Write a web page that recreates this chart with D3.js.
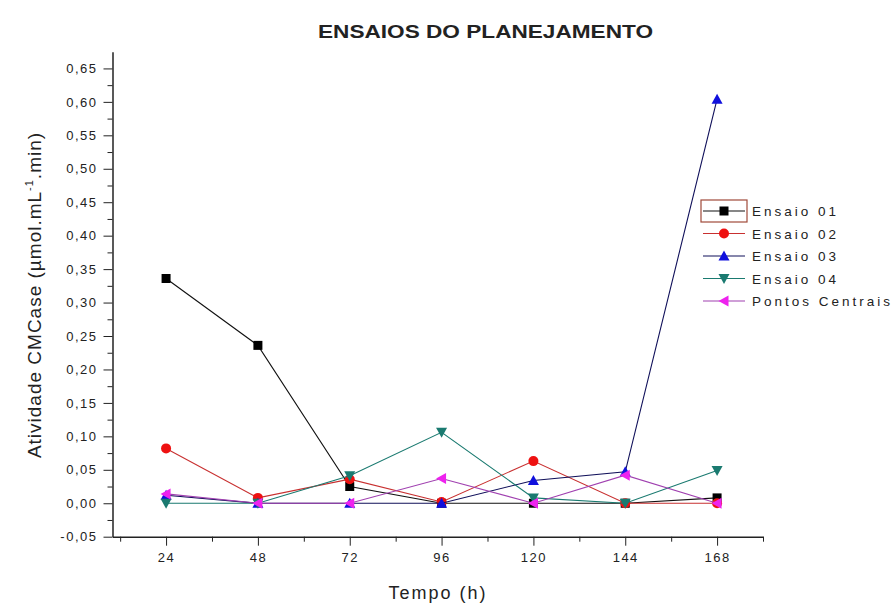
<!DOCTYPE html>
<html>
<head>
<meta charset="utf-8">
<script src="https://cdn.jsdelivr.net/npm/d3@7"></script>
<style>
  html, body { margin: 0; padding: 0; background: #fff; }
  svg { display: block; }
  text { font-family: "Liberation Sans", Arial, sans-serif; fill: #222; }
</style>
</head>
<body>
<svg id="chart" width="895" height="607"></svg>
<script>
// Sampling times (h)
const hours = [24, 48, 72, 96, 120, 144, 168];

// CMCase activity per run (µmol.mL-1.min)
const ensaio01 = [0.336, 0.236, 0.025, 0.000, 0.000, 0.000, 0.008];
const ensaio02 = [0.082, 0.008, 0.036, 0.002, 0.063, 0.000, 0.000];
const ensaio03 = [0.012, 0.000, 0.000, 0.000, 0.034, 0.047, 0.604];
const ensaio04 = [0.000, 0.000, 0.041, 0.106, 0.008, 0.000, 0.049];
const pontosCentrais = [0.014, 0.000, 0.000, 0.037, 0.000, 0.042, 0.000];

const seriesNames = ["Ensaio 01", "Ensaio 02", "Ensaio 03", "Ensaio 04", "Pontos Centrais"];
const seriesValues = [ensaio01, ensaio02, ensaio03, ensaio04, pontosCentrais];

const xTickValues = [24, 48, 72, 96, 120, 144, 168];
const yTickValues = [-0.05, 0, 0.05, 0.10, 0.15, 0.20, 0.25, 0.30, 0.35, 0.40, 0.45, 0.50, 0.55, 0.60, 0.65];

const styles = [
  { line: "#111111", fill: "#000000", symbol: "square" },
  { line: "#c83030", fill: "#ee1111", symbol: "circle" },
  { line: "#10105a", fill: "#1010dd", symbol: "up" },
  { line: "#1a7a70", fill: "#1a7a70", symbol: "down" },
  { line: "#a040b0", fill: "#ee22ee", symbol: "left" }
];

const svg = d3.select("#chart");

const x = d3.scaleLinear().domain([10, 180]).range([112.5, 763]);
const y = d3.scaleLinear().domain([-0.05, 0.675]).range([536.7, 51.7]);

const fmt = v => d3.format(".2f")(v).replace(".", ",").replace("−", "-");

// Bottom axis with minor ticks every 12 h
const xMinor = d3.range(12, 181, 24);
svg.append("g")
  .attr("transform", `translate(0,${y.range()[0]})`)
  .call(d3.axisBottom(x).tickValues(xMinor).tickSize(5).tickFormat(""))
  .call(g => g.select(".domain").remove())
  .call(g => g.selectAll("line").attr("stroke", "#222"));
const xAxis = svg.append("g")
  .attr("transform", `translate(0,${y.range()[0]})`)
  .call(d3.axisBottom(x).tickValues(xTickValues).tickSize(9).tickSizeOuter(0).tickPadding(7));
xAxis.select(".domain").attr("stroke", "#222").attr("stroke-width", 1.5);
xAxis.selectAll("line").attr("stroke", "#222");
xAxis.selectAll("text")
  .style("font-size", "13px").style("letter-spacing", "1.5px").attr("fill", "#333");

// Left axis with minor ticks every 0.025
const yMinor = d3.range(-0.025, 0.675, 0.05);
svg.append("g")
  .attr("transform", `translate(${x.range()[0]},0)`)
  .call(d3.axisLeft(y).tickValues(yMinor).tickSize(5).tickFormat(""))
  .call(g => g.select(".domain").remove())
  .call(g => g.selectAll("line").attr("stroke", "#222"));
const yAxis = svg.append("g")
  .attr("transform", `translate(${x.range()[0]},0)`)
  .call(d3.axisLeft(y).tickValues(yTickValues).tickSize(9).tickSizeOuter(0).tickPadding(6).tickFormat(fmt));
yAxis.select(".domain").attr("stroke", "#222").attr("stroke-width", 1.5);
yAxis.selectAll("line").attr("stroke", "#222");
yAxis.selectAll("text")
  .style("font-size", "13px").style("letter-spacing", "1.5px").attr("fill", "#333");

// Marker shapes
function markerPath(kind, s) {
  const h = s / 2;
  switch (kind) {
    case "square": return `M${-h},${-h}H${h}V${h}H${-h}Z`;
    case "up": return `M0,${-h - 1}L${h + 1},${h}L${-h - 1},${h}Z`;
    case "down": return `M0,${h + 1}L${h + 1},${-h}L${-h - 1},${-h}Z`;
    case "left": return `M${-h - 1},0L${h},${-h - 1}L${h},${h + 1}Z`;
    default: return null;
  }
}
function drawMarker(g, st, cx, cy, s) {
  if (st.symbol === "circle") {
    g.append("circle").attr("cx", cx).attr("cy", cy).attr("r", s / 2 + 0.5).attr("fill", st.fill);
  } else {
    g.append("path").attr("transform", `translate(${cx},${cy})`)
      .attr("d", markerPath(st.symbol, s)).attr("fill", st.fill);
  }
}

const line = d3.line().x((d, i) => x(hours[i])).y(d => y(d));
const plot = svg.append("g");
seriesValues.forEach((vals, k) => {
  const st = styles[k];
  const g = plot.append("g");
  g.append("path").datum(vals).attr("d", line)
    .attr("fill", "none").attr("stroke", st.line).attr("stroke-width", 1.1);
  vals.forEach((v, i) => drawMarker(g, st, x(hours[i]), y(v), 9));
});

// Legend
const legend = svg.append("g").attr("transform", "translate(703,211)");
seriesNames.forEach((name, k) => {
  const st = styles[k];
  const gy = k * 22.5;
  const g = legend.append("g").attr("transform", `translate(0,${gy})`);
  g.append("line").attr("x1", 0).attr("x2", 42).attr("y1", 0).attr("y2", 0)
    .attr("stroke", st.line).attr("stroke-width", 1.2);
  drawMarker(g, st, 21, 0, 9);
  g.append("text").attr("x", 49).attr("y", 5)
    .style("font-size", "13.5px").style("letter-spacing", "3px").text(name);
});
legend.append("rect").attr("x", -2).attr("y", -11).attr("width", 46).attr("height", 22)
  .attr("fill", "none").attr("stroke", "#a04a3a").attr("stroke-width", 1.2);

// Title
svg.append("text").attr("x", 318).attr("y", 38)
  .attr("textLength", 335).attr("lengthAdjust", "spacingAndGlyphs")
  .style("font-size", "19px").style("font-weight", "bold")
  .text("ENSAIOS DO PLANEJAMENTO");

// Axis titles
svg.append("text").attr("x", 438).attr("y", 599).attr("text-anchor", "middle")
  .style("font-size", "18px").style("letter-spacing", "2px")
  .text("Tempo (h)");

const yt = svg.append("text")
  .attr("transform", "translate(41,295) rotate(-90)")
  .attr("text-anchor", "middle")
  .style("font-size", "19px").style("letter-spacing", "1px");
yt.append("tspan").text("Atividade CMCase (µmol.mL");
yt.append("tspan").attr("dy", -8).style("font-size", "11px").text("-1");
yt.append("tspan").attr("dy", 8).text(".min)");
</script>
</body>
</html>
